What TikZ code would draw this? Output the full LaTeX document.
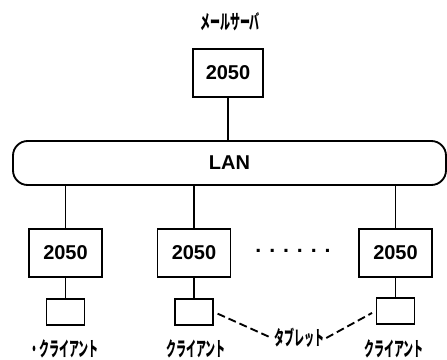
\documentclass[tikz,border=0pt]{standalone}
\usepackage{fontspec}
\newfontfamily\jpfont{Noto Sans CJK JP}
\newfontfamily\numfont{Liberation Sans}
\newcommand{\halfw}[1]{\scalebox{0.5}[1]{#1}}
\begin{document}
\begin{tikzpicture}[x=0.75pt,y=-0.75pt,line width=1.4pt,
		box/.style={draw,minimum width=54.75pt,minimum height=36pt,font=\numfont\bfseries\fontsize{15}{17}\selectfont},
		pad/.style={draw,minimum width=28.5pt,minimum height=19pt},
		lbl/.style={inner sep=1pt,font=\jpfont\bfseries\fontsize{15}{17}\selectfont}]
	\useasboundingbox (0,0) rectangle (447,360);
	% Mail server
	\node[lbl] (srvlbl) at (230,22) {\halfw{メールサーバ}};
	\node[box,minimum width=52.5pt] (srv) at (228,73) {2050};
	% LAN
	\node[draw,rounded corners=11pt,minimum width=324.75pt,minimum height=33pt,
		font=\numfont\bfseries\fontsize{15}{17}\selectfont] (lan) at (229.5,163) {LAN};
	\draw (srv) -- (srv |- lan.north);
	% Clients
	\foreach \n/\x/\ty in {1/65.5/312,2/194/312,3/395.5/311}{
		\node[box] (c\n) at (\x,253) {2050};
		\node[pad] (t\n) at (\x,\ty) {};
		\draw (lan.south -| c\n) -- (c\n);
		\draw (c\n) -- (t\n);
	}
	\node[lbl] (l1) at (64,349) {\halfw{・クライアント}};
	\node[lbl] (l2) at (196,349) {\halfw{クライアント}};
	\node[lbl] (l3) at (394,349) {\halfw{クライアント}};
	\node[font=\numfont\bfseries\fontsize{16}{18}\selectfont] (dots) at (293,251) {. . . . . .};
	% Tablet
	\node[lbl] (tab) at (299,338) {\halfw{タブレット}};
	\draw[dash pattern=on 6pt off 3pt,shorten <=3pt] (t2.east) -- (tab.west);
	\draw[dash pattern=on 6pt off 3pt,shorten >=3pt] (tab.east) -- (t3.west);
\end{tikzpicture}
\end{document}
